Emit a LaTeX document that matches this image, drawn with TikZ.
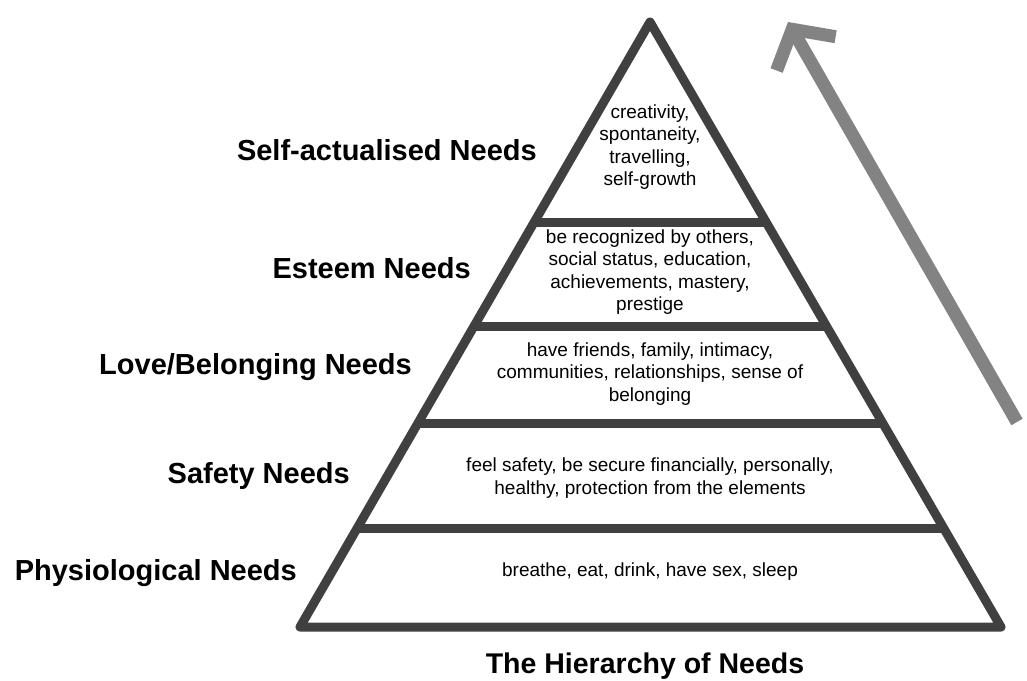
\documentclass[tikz,border=0pt]{standalone}
\usepackage{fontspec}
\setmainfont{Liberation Sans}
\usetikzlibrary{arrows.meta,calc}
\definecolor{pyrgray}{HTML}{404040}
\definecolor{arrowgray}{HTML}{838383}
\tikzset{
  level/.style={font=\fontsize{29}{34}\selectfont\bfseries, anchor=east, inner sep=0pt},
  need/.style={font=\fontsize{19}{22.5}\selectfont, align=center, inner sep=0pt},
  edge/.style={pyrgray, line width=9pt}
}
\begin{document}
\begin{tikzpicture}[x=1pt,y=-1pt]
\useasboundingbox (0,0) rectangle (1027,680);
\coordinate (apex) at (650,22);
\coordinate (bl) at (300,627);
\coordinate (br) at (1001,627);
\draw[edge, line join=round] (apex) -- (bl) -- (br) -- cycle;
\foreach \t in {0.331,0.504,0.663,0.838}
  \draw[edge] ($(apex)!\t!(bl)$) -- ($(apex)!\t!(br)$);
\node[level] (selfLbl) at (537,150) {Self-actualised Needs};
\node[level] (esteemLbl) at (471,268) {Esteem Needs};
\node[level] (loveLbl) at (412,367) {Love/Belonging Needs};
\node[level] (safetyLbl) at (350,476) {Safety Needs};
\node[level] (physLbl) at (297,573) {Physiological Needs};
\node[need] (selfTxt) at (650,147) {creativity,\\spontaneity,\\travelling,\\self-growth};
\node[need] (esteemTxt) at (650,272) {be recognized by others,\\social status, education,\\achievements, mastery,\\prestige};
\node[need] (loveTxt) at (650,374) {have friends, family, intimacy,\\communities, relationships, sense of\\belonging};
\node[need] (safetyTxt) at (650,478) {feel safety, be secure financially, personally,\\healthy, protection from the elements};
\node[need] (physTxt) at (650,572) {breathe, eat, drink, have sex, sleep};
\node[font=\fontsize{28.5}{34}\selectfont\bfseries, inner sep=0pt] (title) at (645,666) {The Hierarchy of Needs};
\coordinate (arrowTail) at (1017,422);
\coordinate (arrowTip) at (788,22);
\draw[arrowgray, line width=13pt, -{Straight Barb[length=28pt,width=68pt]}] (arrowTail) -- (arrowTip);
\end{tikzpicture}
\end{document}
